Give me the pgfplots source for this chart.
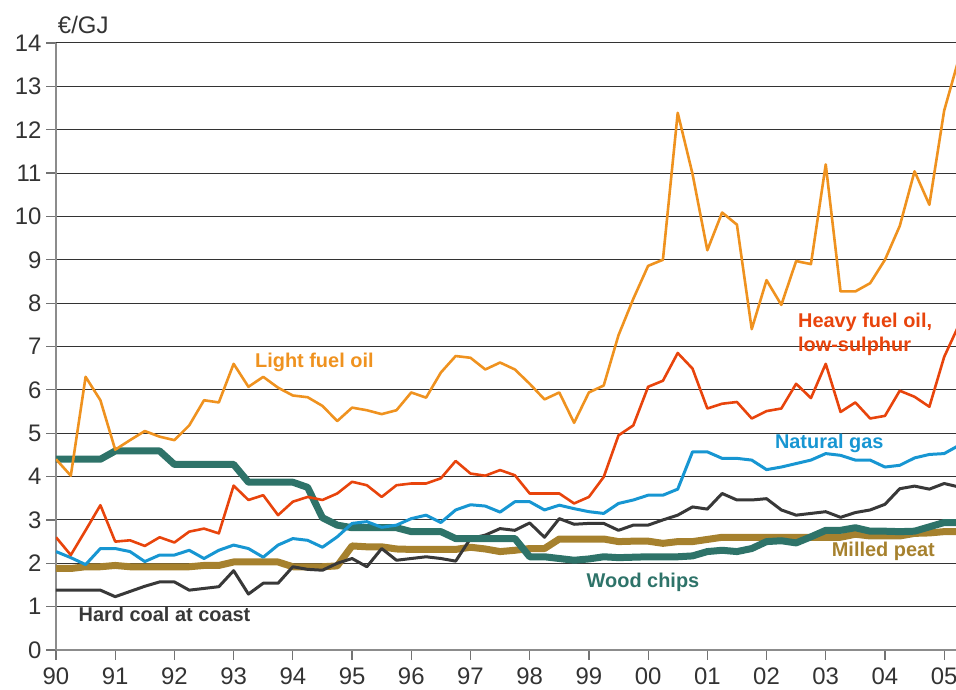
\documentclass[border=0pt]{standalone}
\usepackage{pgfplots}
\pgfplotsset{compat=1.18}
\usepackage{pgfplotstable}
\usepackage{fontspec}
\setmainfont{Liberation Sans}
\definecolor{clfo}{HTML}{EF921F}
\definecolor{chfo}{HTML}{E8440C}
\definecolor{cgas}{HTML}{1796D2}
\definecolor{ccoal}{HTML}{383838}
\definecolor{cwood}{HTML}{2E7369}
\definecolor{cpeat}{HTML}{A6812E}
\definecolor{ctick}{HTML}{333333}
\pgfplotstableread{
t lfo hfo gas coal wood peat
0.00 4.40 2.60 2.27 1.38 4.40 1.88
0.25 4.02 2.19 2.13 1.38 4.40 1.88
0.50 6.30 2.76 1.97 1.38 4.40 1.92
0.75 5.76 3.34 2.34 1.38 4.40 1.92
1.00 4.62 2.50 2.34 1.23 4.59 1.95
1.25 4.84 2.53 2.27 1.35 4.59 1.92
1.50 5.05 2.40 2.04 1.47 4.59 1.92
1.75 4.92 2.60 2.19 1.57 4.59 1.92
2.00 4.84 2.48 2.19 1.57 4.28 1.92
2.25 5.18 2.73 2.30 1.38 4.28 1.92
2.50 5.76 2.80 2.11 1.42 4.28 1.95
2.75 5.71 2.69 2.30 1.46 4.28 1.95
3.00 6.60 3.79 2.42 1.83 4.28 2.03
3.25 6.07 3.46 2.34 1.29 3.87 2.03
3.50 6.30 3.57 2.14 1.54 3.87 2.03
3.75 6.05 3.11 2.42 1.54 3.87 2.03
4.00 5.87 3.42 2.57 1.92 3.87 1.92
4.25 5.83 3.53 2.53 1.86 3.75 1.92
4.50 5.63 3.46 2.37 1.84 3.05 1.92
4.75 5.28 3.61 2.61 2.00 2.88 1.94
5.00 5.59 3.88 2.92 2.11 2.82 2.40
5.25 5.53 3.80 2.96 1.92 2.82 2.38
5.50 5.44 3.53 2.83 2.34 2.82 2.38
5.75 5.53 3.80 2.88 2.07 2.82 2.33
6.00 5.94 3.84 3.03 2.11 2.73 2.32
6.25 5.82 3.84 3.11 2.15 2.73 2.32
6.50 6.40 3.96 2.94 2.11 2.73 2.32
6.75 6.78 4.36 3.23 2.05 2.57 2.32
7.00 6.74 4.07 3.35 2.57 2.57 2.37
7.25 6.47 4.02 3.32 2.65 2.57 2.33
7.50 6.63 4.15 3.18 2.80 2.57 2.27
7.75 6.47 4.03 3.42 2.76 2.57 2.30
8.00 6.14 3.61 3.42 2.93 2.15 2.34
8.25 5.78 3.61 3.23 2.60 2.15 2.34
8.50 5.94 3.61 3.34 3.03 2.11 2.56
8.75 5.24 3.38 3.26 2.90 2.07 2.56
9.00 5.94 3.53 3.19 2.92 2.10 2.56
9.25 6.10 3.99 3.15 2.92 2.15 2.56
9.50 7.26 4.95 3.38 2.76 2.13 2.50
9.75 8.10 5.18 3.46 2.88 2.14 2.51
10.00 8.86 6.07 3.57 2.88 2.15 2.51
10.25 9.00 6.21 3.57 3.00 2.15 2.46
10.50 12.39 6.85 3.71 3.11 2.15 2.50
10.75 10.98 6.49 4.57 3.30 2.17 2.50
11.00 9.22 5.57 4.57 3.25 2.27 2.55
11.25 10.09 5.68 4.42 3.61 2.30 2.60
11.50 9.81 5.72 4.42 3.46 2.27 2.60
11.75 7.40 5.34 4.38 3.46 2.34 2.60
12.00 8.53 5.51 4.16 3.49 2.50 2.60
12.25 7.96 5.57 4.22 3.23 2.52 2.60
12.50 8.97 6.14 4.30 3.11 2.47 2.60
12.75 8.90 5.81 4.38 3.15 2.61 2.60
13.00 11.20 6.60 4.53 3.19 2.76 2.60
13.25 8.27 5.49 4.49 3.06 2.76 2.60
13.50 8.27 5.71 4.38 3.17 2.82 2.67
13.75 8.46 5.34 4.38 3.23 2.74 2.63
14.00 9.00 5.40 4.22 3.36 2.74 2.63
14.25 9.78 5.98 4.26 3.72 2.73 2.63
14.50 11.04 5.84 4.43 3.78 2.74 2.69
14.75 10.27 5.61 4.51 3.71 2.84 2.70
15.00 12.44 6.76 4.53 3.84 2.94 2.73
15.25 13.65 7.50 4.72 3.76 2.94 2.73
}\prices
\begin{document}
\begin{tikzpicture}
\useasboundingbox (-56bp,-40bp) rectangle (900bp,650bp);
\begin{axis}[
  at={(0,0)}, anchor=origin,
  scale only axis, width=900bp, height=607bp,
  xmin=0, xmax=15.2, ymin=0, ymax=14,
  axis x line=bottom, axis y line=left,
  axis line style={draw=black!45, line width=1.5bp, -},
  xtick={0,...,15},
  xticklabels={90,91,92,93,94,95,96,97,98,99,00,01,02,03,04,05},
  ytick={0,...,14},
  tick align=outside,
  major tick length=10bp,
  tick style={draw=black!55, line width=1.2bp},
  ymajorgrids,
  grid style={draw=black!80, line width=1bp},
  /pgf/number format/assume math mode=true,
  ticklabel style={font=\fontsize{24}{27}\selectfont, text=ctick},
  xticklabel style={yshift=-4.5bp},
  yticklabel style={xshift=-1bp},
  clip mode=individual,
  line join=round,
]
\addplot[cpeat, line width=7bp] table[x=t, y=peat] {\prices};
\addplot[ccoal, line width=3bp] table[x=t, y=coal] {\prices};
\addplot[cwood, line width=7bp] table[x=t, y=wood] {\prices};
\addplot[cgas, line width=3bp] table[x=t, y=gas] {\prices};
\addplot[chfo, line width=2.6bp] table[x=t, y=hfo] {\prices};
\addplot[clfo, line width=2.6bp] table[x=t, y=lfo] {\prices};

\node[anchor=west, font=\fontsize{24}{27}\selectfont, text=ctick, inner sep=0pt] at (axis cs:0.03,14.42) {€/GJ};
\node[anchor=west, font=\bfseries\fontsize{20}{24}\selectfont, text=clfo, inner sep=0pt] at (axis cs:3.36,6.64) {Light fuel oil};
\node[anchor=west, font=\bfseries\fontsize{20}{24}\selectfont, text=chfo, inner sep=0pt] at (axis cs:12.53,7.56) {Heavy fuel oil,};
\node[anchor=west, font=\bfseries\fontsize{20}{24}\selectfont, text=chfo, inner sep=0pt] at (axis cs:12.53,7.01) {low-sulphur};
\node[anchor=west, font=\bfseries\fontsize{20}{24}\selectfont, text=cgas, inner sep=0pt] at (axis cs:12.14,4.77) {Natural gas};
\node[anchor=west, font=\bfseries\fontsize{20}{24}\selectfont, text=ccoal, inner sep=0pt] at (axis cs:0.38,0.83) {Hard coal at coast};
\node[anchor=west, font=\bfseries\fontsize{20}{24}\selectfont, text=cwood, inner sep=0pt] at (axis cs:8.96,1.57) {Wood chips};
\node[anchor=west, font=\bfseries\fontsize{20}{24}\selectfont, text=cpeat, inner sep=0pt] at (axis cs:13.1,2.27) {Milled peat};
\end{axis}
\end{tikzpicture}
\end{document}
